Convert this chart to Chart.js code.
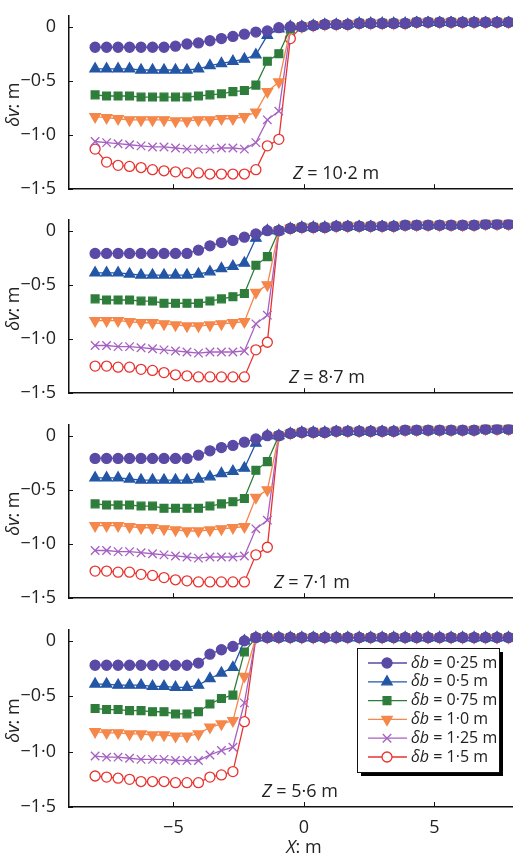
<!DOCTYPE html>
<html>
<head>
<meta charset="utf-8">
<script src="https://cdn.jsdelivr.net/npm/chart.js@4.4.1/dist/chart.umd.min.js"></script>
<style>
  body { margin: 0; background: #fff; width: 520px; height: 858px; position: relative; overflow: hidden; }
  canvas { position: absolute; left: 0; }
</style>
</head>
<body>
<canvas id="p1"></canvas>
<canvas id="p2"></canvas>
<canvas id="p3"></canvas>
<canvas id="p4"></canvas>
<script>
// --------------------------------
// Data
// --------------------------------
const xPos = [-8.0, -7.56, -7.12, -6.68, -6.24, -5.8, -5.36, -4.92, -4.48, -4.04, -3.6, -3.16,
  -2.72, -2.28, -1.84, -1.4, -0.96, -0.52, -0.08, 0.36, 0.8, 1.24, 1.68, 2.12, 2.56, 3.0,
  3.44, 3.88, 4.32, 4.76, 5.2, 5.64, 6.08, 6.52, 6.96, 7.4, 7.84];

const yTicks = [-1.5, -1.0, -0.5, 0];
const yTickLabels = ["\u22121\u00b75", "\u22121\u00b70", "\u22120\u00b75", "0"];
const xTicks = [-5, 0, 5];
const xTickLabels = ["\u22125", "0", "5"];

const seriesNames = ["0\u00b725 m", "0\u00b75 m", "0\u00b775 m", "1\u00b70 m", "1\u00b725 m", "1\u00b75 m"];
const zLabels = ["10\u00b72 m", "8\u00b77 m", "7\u00b71 m", "5\u00b76 m"];

// Z = 10.2 m (left part up to the jump, then a shared plateau)
const z102Plateau = [0.0, 0.01, 0.02, 0.02, 0.02, 0.03, 0.03, 0.03, 0.03, 0.03, 0.04, 0.04, 0.04, 0.04, 0.04, 0.04, 0.04, 0.04, 0.04];
const z102b025 = [-0.19, -0.19, -0.19, -0.19, -0.19, -0.19, -0.19, -0.18, -0.16, -0.15, -0.13, -0.11, -0.09, -0.07, -0.05, -0.04, -0.01, 0.0];
const z102b050 = [-0.39, -0.39, -0.39, -0.39, -0.40, -0.40, -0.40, -0.40, -0.40, -0.39, -0.36, -0.34, -0.32, -0.30, -0.26, -0.08, -0.02, 0.0];
const z102b075 = [-0.63, -0.64, -0.64, -0.64, -0.65, -0.65, -0.65, -0.65, -0.65, -0.64, -0.63, -0.62, -0.60, -0.59, -0.54, -0.32, -0.25, -0.02];
const z102b100 = [-0.83, -0.84, -0.85, -0.86, -0.86, -0.86, -0.86, -0.87, -0.87, -0.86, -0.86, -0.85, -0.85, -0.83, -0.79, -0.60, -0.51, -0.02];
const z102b125 = [-1.06, -1.07, -1.08, -1.09, -1.10, -1.11, -1.11, -1.12, -1.13, -1.13, -1.13, -1.12, -1.12, -1.13, -1.07, -0.86, -0.78, -0.03];
const z102b150 = [-1.13, -1.25, -1.28, -1.29, -1.30, -1.32, -1.33, -1.34, -1.35, -1.35, -1.36, -1.36, -1.36, -1.36, -1.32, -1.10, -1.04, -0.11];

// Z = 8.7 m
const z87Plateau = [0.0, 0.02, 0.03, 0.03, 0.03, 0.04, 0.04, 0.04, 0.04, 0.04, 0.04, 0.05, 0.05, 0.05, 0.05, 0.05, 0.05, 0.05, 0.06, 0.06, 0.06];
const z87b025 = [-0.21, -0.21, -0.21, -0.21, -0.21, -0.21, -0.21, -0.21, -0.21, -0.18, -0.14, -0.11, -0.09, -0.06, -0.03, 0.0];
const z87b050 = [-0.39, -0.39, -0.39, -0.40, -0.41, -0.41, -0.41, -0.41, -0.41, -0.40, -0.38, -0.35, -0.33, -0.30, -0.07, 0.0];
const z87b075 = [-0.63, -0.64, -0.64, -0.64, -0.65, -0.65, -0.67, -0.67, -0.67, -0.67, -0.65, -0.63, -0.61, -0.58, -0.32, -0.24];
const z87b100 = [-0.83, -0.83, -0.83, -0.84, -0.85, -0.85, -0.86, -0.87, -0.88, -0.88, -0.87, -0.86, -0.85, -0.84, -0.57, -0.50];
const z87b125 = [-1.06, -1.06, -1.07, -1.07, -1.08, -1.09, -1.10, -1.11, -1.12, -1.13, -1.12, -1.12, -1.12, -1.11, -0.86, -0.78];
const z87b150 = [-1.25, -1.25, -1.26, -1.26, -1.28, -1.29, -1.31, -1.33, -1.34, -1.35, -1.35, -1.35, -1.35, -1.35, -1.10, -1.03];

// Z = 7.1 m
const z71Plateau = [0.0, 0.02, 0.03, 0.03, 0.03, 0.04, 0.04, 0.04, 0.04, 0.04, 0.04, 0.05, 0.05, 0.05, 0.05, 0.05, 0.05, 0.05, 0.06, 0.06, 0.06];
const z71b025 = [-0.21, -0.21, -0.21, -0.21, -0.21, -0.21, -0.21, -0.21, -0.21, -0.18, -0.14, -0.11, -0.09, -0.06, -0.03, 0.0];
const z71b050 = [-0.39, -0.39, -0.39, -0.40, -0.41, -0.41, -0.41, -0.41, -0.41, -0.40, -0.38, -0.35, -0.33, -0.30, -0.07, 0.0];
const z71b075 = [-0.63, -0.64, -0.64, -0.64, -0.65, -0.65, -0.67, -0.67, -0.67, -0.67, -0.65, -0.63, -0.61, -0.58, -0.32, -0.24];
const z71b100 = [-0.83, -0.83, -0.83, -0.84, -0.85, -0.85, -0.86, -0.87, -0.88, -0.88, -0.87, -0.86, -0.85, -0.84, -0.57, -0.50];
const z71b125 = [-1.06, -1.06, -1.07, -1.07, -1.08, -1.09, -1.10, -1.11, -1.12, -1.13, -1.12, -1.12, -1.12, -1.11, -0.86, -0.78];
const z71b150 = [-1.25, -1.25, -1.26, -1.26, -1.28, -1.29, -1.31, -1.33, -1.34, -1.35, -1.35, -1.35, -1.35, -1.35, -1.10, -1.03];

// Z = 5.6 m
const z56Plateau = [0.03, 0.03, 0.03, 0.03, 0.03, 0.03, 0.03, 0.03, 0.03, 0.03, 0.03, 0.03, 0.03, 0.03, 0.03, 0.03, 0.03, 0.03, 0.03, 0.03, 0.03, 0.03, 0.03];
const z56b025 = [-0.22, -0.22, -0.22, -0.22, -0.22, -0.22, -0.22, -0.22, -0.22, -0.20, -0.12, -0.08, -0.05, 0.0];
const z56b050 = [-0.39, -0.39, -0.40, -0.40, -0.40, -0.41, -0.41, -0.42, -0.42, -0.40, -0.34, -0.29, -0.24, 0.0];
const z56b075 = [-0.61, -0.62, -0.62, -0.63, -0.63, -0.64, -0.64, -0.66, -0.66, -0.64, -0.57, -0.52, -0.49, -0.10];
const z56b100 = [-0.82, -0.83, -0.83, -0.84, -0.84, -0.85, -0.85, -0.86, -0.86, -0.84, -0.78, -0.75, -0.72, -0.32];
const z56b125 = [-1.04, -1.05, -1.05, -1.06, -1.07, -1.07, -1.07, -1.08, -1.08, -1.08, -1.03, -0.99, -0.96, -0.56];
const z56b150 = [-1.22, -1.23, -1.24, -1.25, -1.27, -1.27, -1.27, -1.28, -1.28, -1.28, -1.23, -1.21, -1.18, -0.73];

// --------------------------------
// Styles
// --------------------------------
const styles = [
  { color: "#5a4aa6", fill: "#5a4aa6", point: "circle", r: 5 },
  { color: "#2357a6", fill: "#2357a6", point: "triangle", r: 6 },
  { color: "#2f7d3b", fill: "#2f7d3b", point: "rect", r: 5.5 },
  { color: "#f5874a", fill: "#f5874a", point: "triangle", r: 6, rot: 180 },
  { color: "#a560c2", fill: "#a560c2", point: "crossRot", r: 6 },
  { color: "#e83330", fill: "#ffffff", point: "circle", r: 5 },
];

const panels = [
  { id: "p1", top: 0, xAxisH: 12, zx: 336, plateau: z102Plateau, series: [z102b025, z102b050, z102b075, z102b100, z102b125, z102b150], z: zLabels[0] },
  { id: "p2", top: 204, xAxisH: 12, zx: 327, plateau: z87Plateau, series: [z87b025, z87b050, z87b075, z87b100, z87b125, z87b150], z: zLabels[1] },
  { id: "p3", top: 409, xAxisH: 12, zx: 312, plateau: z71Plateau, series: [z71b025, z71b050, z71b075, z71b100, z71b125, z71b150], z: zLabels[2] },
  { id: "p4", top: 614, xAxisH: 51, zx: 300, plateau: z56Plateau, series: [z56b025, z56b050, z56b075, z56b100, z56b125, z56b150], z: zLabels[3], bottom: true },
];

const FONT = "'Open Sans', 'Noto Sans', sans-serif";

// draw text pieces with mixed italic/normal
function drawRich(ctx, parts, x, y, size, align) {
  let w = 0;
  parts.forEach((p) => {
    ctx.font = `${p.i ? "italic " : ""}${size}px ${FONT}`;
    w += ctx.measureText(p.t).width;
  });
  let cx = align === "center" ? x - w / 2 : x;
  ctx.textAlign = "left";
  parts.forEach((p) => {
    ctx.font = `${p.i ? "italic " : ""}${size}px ${FONT}`;
    ctx.fillText(p.t, cx, y);
    cx += ctx.measureText(p.t).width;
  });
}

const decorPlugin = {
  id: "decor",
  afterDraw(chart, args, opts) {
    const { ctx, chartArea, scales } = chart;
    ctx.save();
    ctx.strokeStyle = "#111";
    ctx.lineWidth = 1;
    // inward ticks
    xTicks.forEach((v) => {
      const px = Math.round(scales.x.getPixelForValue(v)) + 0.5;
      ctx.beginPath();
      ctx.moveTo(px, chartArea.bottom);
      ctx.lineTo(px, chartArea.bottom - 5);
      ctx.stroke();
    });
    yTicks.forEach((v) => {
      const py = Math.round(scales.y.getPixelForValue(v)) + 0.5;
      ctx.beginPath();
      ctx.moveTo(chartArea.left, py);
      ctx.lineTo(chartArea.left + 4, py);
      ctx.stroke();
    });
    ctx.fillStyle = "#222";
    ctx.textBaseline = "middle";
    // Z label
    drawRich(ctx, [{ t: "Z", i: true }, { t: " = " + opts.z }], opts.zx, chartArea.bottom - 15, 18, "center");
    // y title
    ctx.save();
    ctx.translate(14, scales.y.getPixelForValue(-0.72));
    ctx.rotate(-Math.PI / 2);
    drawRich(ctx, [{ t: "\u03b4v", i: true }, { t: ": m" }], 0, 0, 18, "center");
    ctx.restore();
    if (opts.bottom) {
      drawRich(ctx, [{ t: "X", i: true }, { t: ": m" }], scales.x.getPixelForValue(0), chartArea.bottom + 41, 18, "center");
      // legend box
      const bx = 357, by = 648 - 614, bw = 142, bh = 124;
      ctx.fillStyle = "#000";
      ctx.fillRect(bx + 4, by + 4, bw, bh);
      ctx.fillStyle = "#fff";
      ctx.fillRect(bx, by, bw, bh);
      ctx.strokeStyle = "#111";
      ctx.strokeRect(bx + 0.5, by + 0.5, bw, bh);
      styles.forEach((s, i) => {
        const ly = by + 15 + i * 18.8;
        ctx.strokeStyle = s.color;
        ctx.lineWidth = 1.3;
        ctx.beginPath();
        ctx.moveTo(368, ly);
        ctx.lineTo(407, ly);
        ctx.stroke();
        ctx.fillStyle = s.fill;
        Chart.helpers.drawPoint(ctx, { pointStyle: s.point, radius: s.r, rotation: s.rot || 0, borderWidth: 1.3 }, 387, ly);
        ctx.fillStyle = "#222";
        drawRich(ctx, [{ t: "\u03b4b", i: true }, { t: " = " + seriesNames[i] }], 411, ly, 16, "left");
      });
    }
    ctx.restore();
  },
};

function buildPanel(p) {
  const canvas = document.getElementById(p.id);
  const height = 2 + 191 + p.xAxisH;
  canvas.style.top = p.top + "px";
  canvas.style.width = "520px";
  canvas.style.height = height + "px";
  canvas.width = 520;
  canvas.height = height;

  const datasets = p.series.map((left, i) => {
    const s = styles[i];
    const values = left.concat(p.plateau);
    return {
      label: "\u03b4b = " + seriesNames[i],
      data: values.map((v, k) => ({ x: xPos[k], y: v })),
      borderColor: s.color,
      backgroundColor: s.fill,
      pointBackgroundColor: s.fill,
      pointBorderColor: s.color,
      pointStyle: s.point,
      pointRadius: s.r,
      pointRotation: s.rot || 0,
      pointBorderWidth: 1.3,
      borderWidth: 1.3,
      showLine: true,
      tension: 0,
    };
  });

  return new Chart(canvas, {
    type: "scatter",
    data: { datasets },
    plugins: [decorPlugin],
    options: {
      responsive: false,
      animation: false,
      layout: { padding: { top: 2, right: 0, left: 0, bottom: 0 } },
      plugins: {
        legend: { display: false },
        tooltip: { enabled: false },
        decor: { z: p.z, zx: p.zx, bottom: !!p.bottom },
      },
      scales: {
        x: {
          type: "linear",
          min: -9,
          max: 8,
          afterBuildTicks: (axis) => { axis.ticks = xTicks.map((v) => ({ value: v })); },
          afterFit: (axis) => { axis.height = p.xAxisH; },
          grid: { display: false },
          border: { display: true, color: "#111", width: 1.5 },
          ticks: {
            display: !!p.bottom,
            color: "#222",
            font: { family: FONT, size: 18 },
            padding: 2,
            callback: (v) => xTickLabels[xTicks.indexOf(v)],
          },
        },
        y: {
          type: "linear",
          min: -1.5,
          max: 0.1,
          afterBuildTicks: (axis) => { axis.ticks = yTicks.map((v) => ({ value: v })); },
          afterFit: (axis) => { axis.width = 69; },
          grid: { display: false },
          border: { display: true, color: "#111", width: 1.5 },
          ticks: {
            color: "#222",
            font: { family: FONT, size: 18 },
            padding: 5,
            callback: (v) => yTickLabels[yTicks.indexOf(v)],
          },
        },
      },
    },
  });
}

panels.forEach(buildPanel);
</script>
</body>
</html>
